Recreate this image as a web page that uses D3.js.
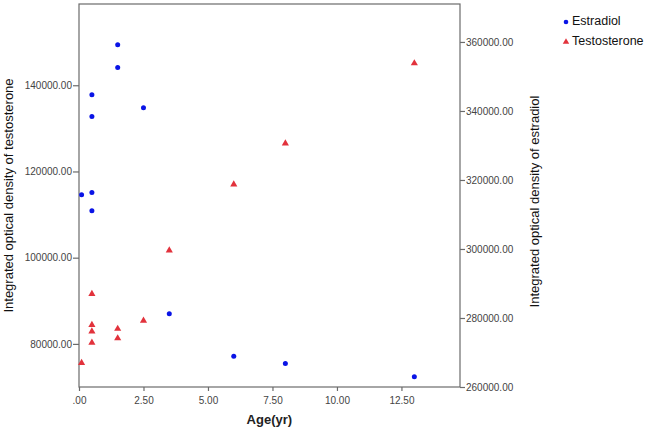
<!DOCTYPE html>
<html>
<head>
<meta charset="utf-8">
<script src="https://cdn.jsdelivr.net/npm/d3@7"></script>
<style>
  body { margin: 0; background: #fff; }
  svg { font-family: 'Liberation Sans', Arial, sans-serif; }
</style>
</head>
<body>
<svg id="chart" width="650" height="428"></svg>
<script>
'use strict';

// ages (years) shared by both measurements
let ages = [0.1, 0.5, 0.5, 0.5, 0.5, 1.5, 1.5, 2.5, 3.5, 6, 8, 13];
let estradiol = [315700, 344700, 338400, 316400, 311100, 359200, 352600, 340900, 281200, 268900, 266800, 263000];
let testosterone = [75600, 91600, 84400, 82900, 80300, 83500, 81300, 85400, 101700, 117000, 126500, 145100];

let xTicks = [0, 2.5, 5, 7.5, 10, 12.5];
let leftTicks = [80000, 100000, 120000, 140000];
let rightTicks = [260000, 280000, 300000, 320000, 340000, 360000];

let seriesNames = ['Estradiol', 'Testosterone'];
let blue = '#0a14e6';
let red = '#e2323c';
let axisGray = '#6b6b6b';

let svg = d3.select('#chart');

let plot = { x: 79, y: 4, w: 381, h: 383 };

let x = d3.scaleLinear().domain([0, 14.77]).range([plot.x, plot.x + plot.w]);
let yLeft = d3.scaleLinear().domain([70000, 158850]).range([plot.y + plot.h, plot.y]);
let yRight = d3.scaleLinear().domain([260000, 371000]).range([plot.y + plot.h, plot.y]);

let fmt = v => {
  let s = d3.format('.2f')(v);
  return s.startsWith('0.') ? s.slice(1) : s;
};

// frame
svg.append('rect')
  .attr('x', plot.x)
  .attr('y', plot.y)
  .attr('width', plot.w)
  .attr('height', plot.h)
  .style('fill', 'none')
  .style('stroke', axisGray)
  .style('stroke-width', 1.2);

let styleAxis = g => {
  g.select('.domain').remove();
  g.selectAll('line').style('stroke', axisGray).style('stroke-width', 1.2);
  g.selectAll('text')
    .style('font-size', '10px')
    .style('font-family', "'Liberation Sans', Arial, sans-serif")
    .style('fill', '#444');
};

svg.append('g')
  .attr('transform', `translate(0,${plot.y + plot.h})`)
  .call(d3.axisBottom(x).tickValues(xTicks).tickFormat(fmt).tickSize(4).tickPadding(6))
  .call(styleAxis);

svg.append('g')
  .attr('transform', `translate(${plot.x},0)`)
  .call(d3.axisLeft(yLeft).tickValues(leftTicks).tickFormat(fmt).tickSize(6).tickPadding(1))
  .call(styleAxis);

svg.append('g')
  .attr('transform', `translate(${plot.x + plot.w},0)`)
  .call(d3.axisRight(yRight).tickValues(rightTicks).tickFormat(fmt).tickSize(5).tickPadding(1))
  .call(styleAxis);

// axis titles
svg.append('text')
  .attr('x', x(7.38))
  .attr('y', 424)
  .style('text-anchor', 'middle')
  .style('font-size', '13px')
  .style('font-weight', 'bold')
  .style('fill', '#222')
  .text('Age(yr)');

svg.append('text')
  .attr('transform', `translate(13,${plot.y + plot.h / 2}) rotate(-90)`)
  .style('text-anchor', 'middle')
  .style('font-size', '13px')
  .style('fill', '#111')
  .text('Integrated optical density of testosterone');

svg.append('text')
  .attr('transform', `translate(539,${plot.y + plot.h / 2 + 6}) rotate(-90)`)
  .style('text-anchor', 'middle')
  .style('font-size', '13px')
  .style('fill', '#111')
  .text('Integrated optical density of estradiol');

// points
let tri = d3.symbol().type(d3.symbolTriangle).size(22);

svg.append('g')
  .selectAll('path')
  .data(ages)
  .join('path')
  .attr('d', tri)
  .attr('transform', (a, i) => `translate(${x(a)},${yLeft(testosterone[i])})`)
  .style('fill', red);

svg.append('g')
  .selectAll('circle')
  .data(ages)
  .join('circle')
  .attr('cx', a => x(a))
  .attr('cy', (a, i) => yRight(estradiol[i]))
  .attr('r', 2.5)
  .style('fill', blue);

// legend
let legend = svg.append('g').attr('transform', 'translate(566,0)');
legend.append('circle')
  .attr('cx', 0)
  .attr('cy', 22)
  .attr('r', 2.3)
  .style('fill', blue);
legend.append('path')
  .attr('d', d3.symbol().type(d3.symbolTriangle).size(18))
  .attr('transform', 'translate(0,42)')
  .style('fill', red);
legend.selectAll('text')
  .data(seriesNames)
  .join('text')
  .attr('x', 6)
  .attr('y', (d, i) => 22 + i * 20)
  .style('dominant-baseline', 'middle')
  .style('font-size', '12.5px')
  .style('fill', '#111')
  .text(d => d);
</script>
</body>
</html>
